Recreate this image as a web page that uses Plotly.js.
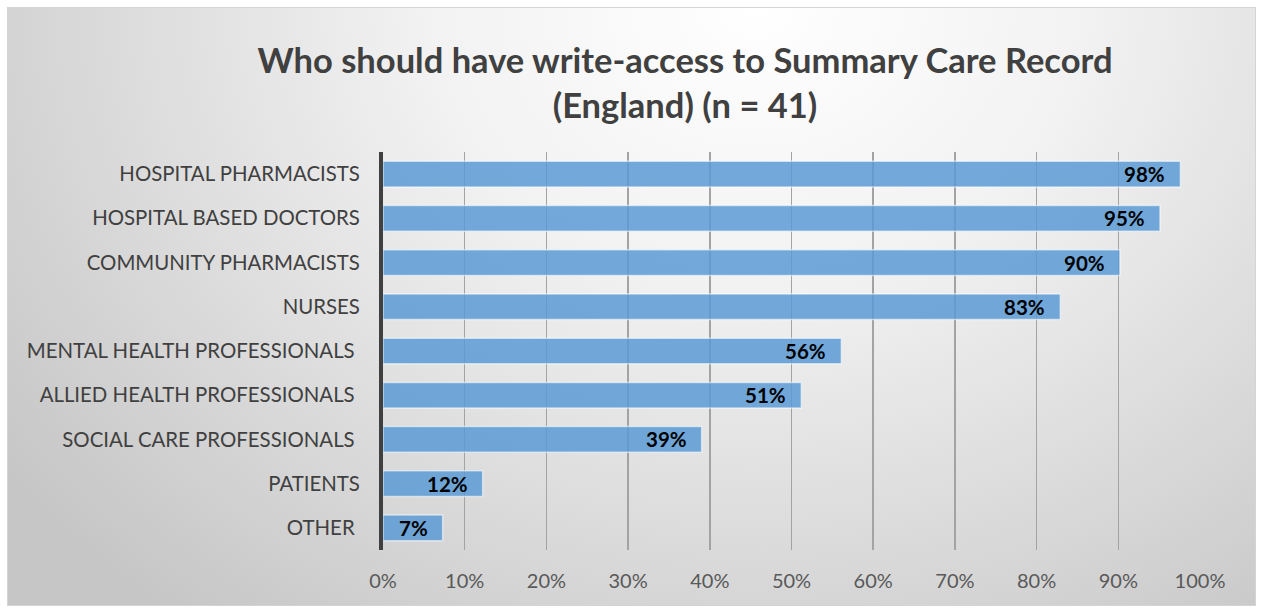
<!DOCTYPE html>
<html>
<head>
<meta charset="utf-8">
<script src="https://cdn.plot.ly/plotly-3.0.1.min.js"></script>
<style>
html,body{margin:0;padding:0;background:#ffffff;}
#bg{position:absolute;left:7px;top:7px;width:1247px;height:597px;border:1px solid #d4d4d4;
background:radial-gradient(ellipse 75% 130% at 60% 0%, #ffffff 0%, #f2f2f2 35%, #c6c6c6 100%);}
#chart{position:absolute;left:0;top:0;width:1261px;height:608px;}
</style>
</head>
<body>
<div id="bg"></div>
<div id="chart"></div>
<script>
const categories = [
  "HOSPITAL PHARMACISTS",
  "HOSPITAL BASED DOCTORS",
  "COMMUNITY PHARMACISTS",
  "NURSES",
  "MENTAL HEALTH PROFESSIONALS\u00a0",
  "ALLIED HEALTH PROFESSIONALS\u00a0",
  "SOCIAL CARE PROFESSIONALS\u00a0",
  "PATIENTS",
  "OTHER\u00a0"
];
const values = [97.6, 95.1, 90.2, 82.9, 56.1, 51.2, 39.0, 12.2, 7.3];
const valueLabels = ["98%", "95%", "90%", "83%", "56%", "51%", "39%", "12%", "7%"];
const tickValues = [0,10,20,30,40,50,60,70,80,90,100];
const tickLabels = ["0%","10%","20%","30%","40%","50%","60%","70%","80%","90%","100%"];

const FONT = "Lato, 'Open Sans', sans-serif";

const trace = {
  type: "bar",
  orientation: "h",
  x: values,
  y: categories,
  marker: {color: "rgba(91,155,213,0.85)", line: {color: "rgba(255,255,255,0.55)", width: 1.5}},
  hoverinfo: "none",
  width: 0.58
};

const annotations = values.map((v, i) => ({
  x: v, y: categories[i], xref: "x", yref: "y",
  text: "<b>" + valueLabels[i] + "</b>",
  showarrow: false, xanchor: "right", xshift: -13,
  font: {family: FONT, size: 20.5, color: "#000000"}
}));

const layout = {
  width: 1261, height: 608,
  margin: {l: 383, r: 61, t: 152, b: 58},
  paper_bgcolor: "rgba(0,0,0,0)",
  plot_bgcolor: "rgba(0,0,0,0)",
  showlegend: false,
  title: {
    text: "<b>Who should have write-access to Summary Care Record<br>(England) (n = 41)</b>",
    x: 685/1261, xanchor: "center",
    yref: "container", y: 1 - 73/608, yanchor: "top",
    font: {family: FONT, size: 34.5, color: "#404040"}
  },
  xaxis: {
    range: [0, 100],
    tickvals: tickValues, ticktext: tickLabels,
    showgrid: true, gridcolor: "#a3a3a3", gridwidth: 1.5,
    zeroline: false, showline: false,
    ticks: "", ticklabelstandoff: 17,
    tickfont: {family: FONT, size: 20, color: "#595959"},
    fixedrange: true
  },
  yaxis: {
    type: "category",
    autorange: "reversed",
    showgrid: false, zeroline: false,
    showline: true, linecolor: "#404040", linewidth: 4,
    ticks: "", ticklabelstandoff: 15,
    tickfont: {family: FONT, size: 20.4, color: "#404040"},
    fixedrange: true
  },
  annotations: annotations,
  bargap: 0.42
};

Plotly.newPlot("chart", [trace], layout, {displayModeBar: false, staticPlot: true});
</script>
</body>
</html>
